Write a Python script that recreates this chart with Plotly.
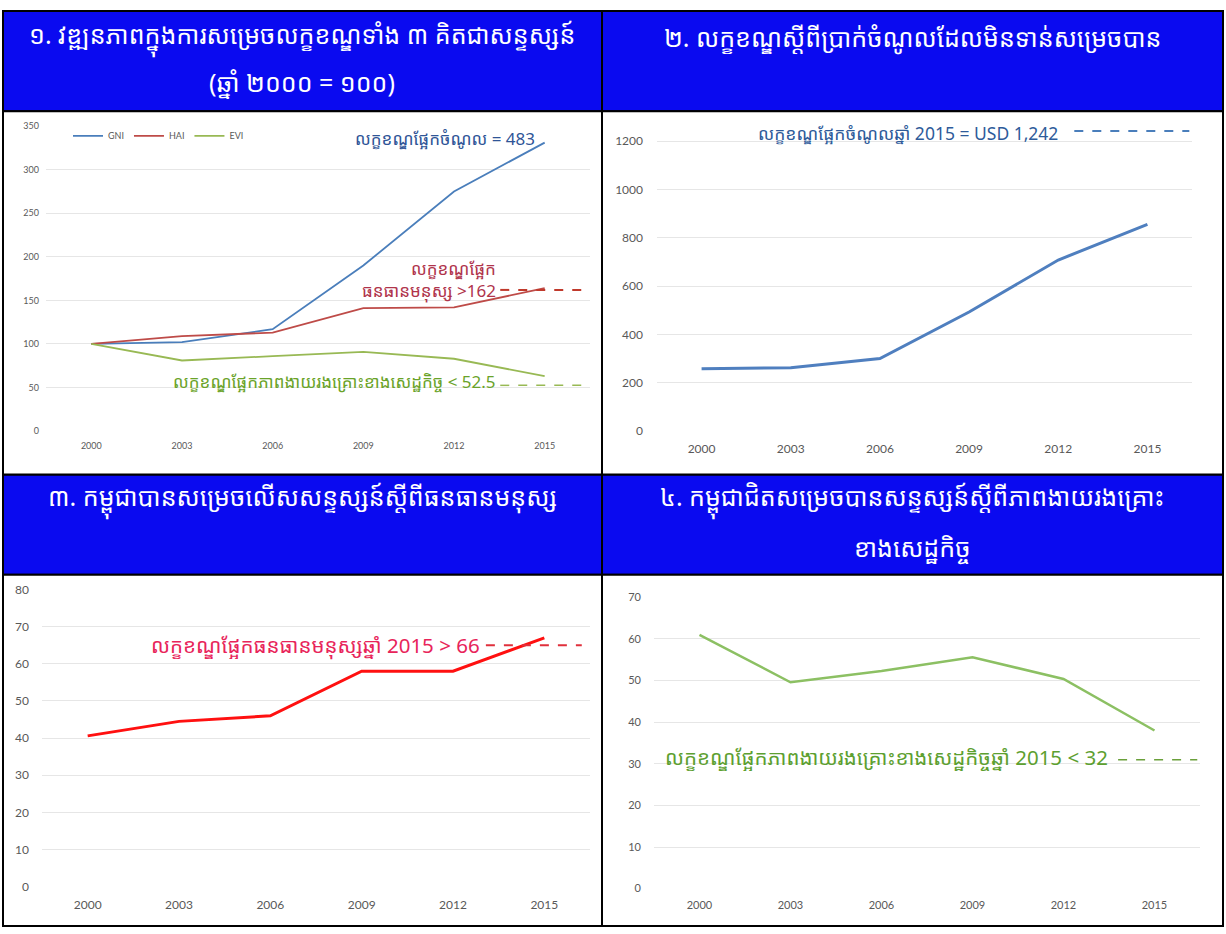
import plotly.graph_objects as go

W, H = 1226, 934

years = ["2000", "2003", "2006", "2009", "2012", "2015"]

# panel 1: indices (2000 = 100)
gni_index = [100, 102, 117, 190, 275, 331]
hai_index = [100, 109, 113, 141, 142, 164]
evi_index = [100, 81, 86, 91, 83, 63]
p1_hai_threshold = 162
p1_evi_threshold = 52.5

# panel 2: GNI per capita (USD)
gni_usd = [258, 262, 300, 493, 708, 855]
p2_threshold = 1242

# panel 3: human assets index
hai_values = [40.6, 44.5, 46, 58, 58, 67]
p3_threshold = 65

# panel 4: economic vulnerability index
evi_values = [61, 49.6, 52.3, 55.6, 50.4, 38]
p4_threshold = 31

# header lines for each panel
headers = [
    ["១. វឌ្ឍនភាពក្នុងការសម្រេចលក្ខខណ្ឌទាំង ៣ គិតជាសន្ទស្សន៍", "(ឆ្នាំ ២០០០ = ១០០)"],
    ["២. លក្ខខណ្ឌស្ដីពីប្រាក់ចំណូលដែលមិនទាន់សម្រេចបាន"],
    ["៣. កម្ពុជាបានសម្រេចលើសសន្ទស្សន៍ស្ដីពីធនធានមនុស្ស"],
    ["៤. កម្ពុជាជិតសម្រេចបានសន្ទស្សន៍ស្ដីពីភាពងាយរងគ្រោះ", "ខាងសេដ្ឋកិច្ច"],
]

KH_FONT = "Noto Sans Khmer, Khmer OS, Noto Sans, sans-serif"
TICK_FONT = dict(family="Lato, Open Sans, sans-serif", color="#595959")


def px_x(p):
    return p / W


def px_y(p):
    return 1 - p / H


fig = go.Figure()

# panel 1
fig.add_trace(go.Scatter(x=years, y=gni_index, name="GNI", mode="lines",
                         line=dict(color="#4a7ebb", width=1.8), xaxis="x", yaxis="y"))
fig.add_trace(go.Scatter(x=years, y=hai_index, name="HAI", mode="lines",
                         line=dict(color="#be4b48", width=1.8), xaxis="x", yaxis="y"))
fig.add_trace(go.Scatter(x=years, y=evi_index, name="EVI", mode="lines",
                         line=dict(color="#98b954", width=1.8), xaxis="x", yaxis="y"))
# panel 2
fig.add_trace(go.Scatter(x=years, y=gni_usd, mode="lines", showlegend=False,
                         line=dict(color="#4f7fbf", width=3), xaxis="x2", yaxis="y2"))
# panel 3
fig.add_trace(go.Scatter(x=years, y=hai_values, mode="lines", showlegend=False,
                         line=dict(color="#ff1010", width=3), xaxis="x3", yaxis="y3"))
# panel 4
fig.add_trace(go.Scatter(x=years, y=evi_values, mode="lines", showlegend=False,
                         line=dict(color="#8cc063", width=2.5), xaxis="x4", yaxis="y4"))

# plot areas in pixels: left, right, top, bottom, y range, tick step, font size,
# x label gap, y label gap
areas = {
    "": (46, 590, 120, 430, [0, 350], 50, 9, 8, 6),
    "2": (657, 1192, 123, 430, [0, 1250], 200, 12, 9, 13),
    "3": (42, 590, 591, 893, [0, 80], 10, 12, 9, 12),
    "4": (654, 1200, 599, 895, [0, 70], 10, 11, 8, 12),
}

for k, (l, r, t, b, yr, dt, fs, xgap, ygap) in areas.items():
    top_tick = 1200 if k == "2" else int(yr[1])
    fig.layout["xaxis" + k] = dict(
        domain=[px_x(l), px_x(r)], anchor="y" + k, type="category",
        range=[-0.5, 5.5], showgrid=False, showline=False, ticks="",
        ticklabelstandoff=xgap,
        tickfont=dict(TICK_FONT, size=fs), fixedrange=True,
    )
    fig.layout["yaxis" + k] = dict(
        domain=[px_y(b), px_y(t)], anchor="x" + k, range=yr,
        tickvals=list(range(0, top_tick + 1, dt)), ticklabelstandoff=ygap,
        showgrid=True, gridcolor="#e6e6e6", gridwidth=1, zeroline=False,
        showline=False, ticks="", tickfont=dict(TICK_FONT, size=fs), fixedrange=True,
    )

shapes = []
# blue header bands and white chart cells, all framed in black
cells = [(3, 602, 3, 105), (602, 1223, 3, 105), (3, 602, 474, 576), (602, 1223, 474, 576)]
for (x0, x1, y0, y1) in cells:
    shapes.append(dict(type="rect", xref="paper", yref="paper",
                       x0=px_x(x0), x1=px_x(x1), y0=px_y(y1), y1=px_y(y0),
                       fillcolor="#0a0af0", line=dict(color="black", width=2), layer="below"))
for (x0, x1, y0, y1) in [(3, 602, 105, 474), (602, 1223, 105, 474),
                         (3, 602, 576, 933), (602, 1223, 576, 933)]:
    shapes.append(dict(type="rect", xref="paper", yref="paper",
                       x0=px_x(x0), x1=px_x(x1), y0=px_y(y1), y1=px_y(y0),
                       fillcolor="white", line=dict(color="black", width=2), layer="below"))

# dashed threshold lines
dash_lines = [
    ("", p1_hai_threshold, 0.835, 0.996, "#c0392b", 2),
    ("", p1_evi_threshold, 0.835, 0.996, "#98b954", 1.5),
    ("2", p2_threshold, 0.78, 0.995, "#4a7ebb", 2),
    ("3", p3_threshold, 0.81, 0.985, "#e0303c", 2),
    ("4", p4_threshold, 0.85, 0.995, "#6aa03a", 1.5),
]
for k, yv, a, bb, col, w in dash_lines:
    shapes.append(dict(type="line", xref="x%s domain" % k, yref="y" + k,
                       x0=a, x1=bb, y0=yv, y1=yv,
                       line=dict(color=col, width=w, dash="dash")))

annotations = []
header_pos = [(302, [30, 76]), (912, [30]), (302, [500]), (912, [500, 548])]
for lines, (cx, ys) in zip(headers, header_pos):
    for txt, cy in zip(lines, ys):
        annotations.append(dict(text=txt, x=px_x(cx), y=px_y(cy), xref="paper", yref="paper",
                                xanchor="center", yanchor="middle", showarrow=False,
                                font=dict(family=KH_FONT, size=25, color="white")))

notes = [
    ("លក្ខខណ្ឌផ្អែកចំណូល = 483", 537, 133, "#2f5597", 17),
    ("លក្ខខណ្ឌផ្អែក<br>ធនធានមនុស្ស >162", 498, 276, "#b0344c", 17),
    ("លក្ខខណ្ឌផ្អែកភាពងាយរងគ្រោះខាងសេដ្ឋកិច្ច < 52.5", 498, 380, "#6aa329", 17),
    ("លក្ខខណ្ឌផ្អែកចំណូលឆ្នាំ 2015 = USD 1,242", 1060, 127, "#2e5b9a", 17.5),
    ("លក្ខខណ្ឌផ្អែកធនធានមនុស្សឆ្នាំ 2015 > 66", 482, 648, "#e8245a", 20.5),
    ("លក្ខខណ្ឌផ្អែកភាពងាយរងគ្រោះខាងសេដ្ឋកិច្ចឆ្នាំ 2015 < 32", 1110, 762, "#5da030", 20.5),
]
for txt, x, y, col, fs in notes:
    annotations.append(dict(text=txt, x=px_x(x), y=px_y(y), xref="paper", yref="paper",
                            xanchor="right", yanchor="middle", align="right", showarrow=False,
                            font=dict(family=KH_FONT, size=fs, color=col)))

fig.update_layout(
    width=W, height=H,
    margin=dict(l=0, r=0, t=0, b=0),
    paper_bgcolor="white", plot_bgcolor="rgba(0,0,0,0)",
    shapes=shapes, annotations=annotations,
    legend=dict(orientation="h", x=px_x(68), y=px_y(130), xanchor="left", yanchor="middle",
                font=dict(family="Lato, sans-serif", size=9, color="#595959"),
                bgcolor="rgba(0,0,0,0)", itemwidth=30, tracegroupgap=0),
    showlegend=True,
)

pin = ("var gd=document.getElementById('{plot_id}');"
       "document.body.style.margin='0';document.body.style.overflow='hidden';"
       "gd.style.position='fixed';gd.style.top='0px';gd.style.left='0px';")
fig.write_html("out.html", config={"displayModeBar": False}, post_script=pin)
